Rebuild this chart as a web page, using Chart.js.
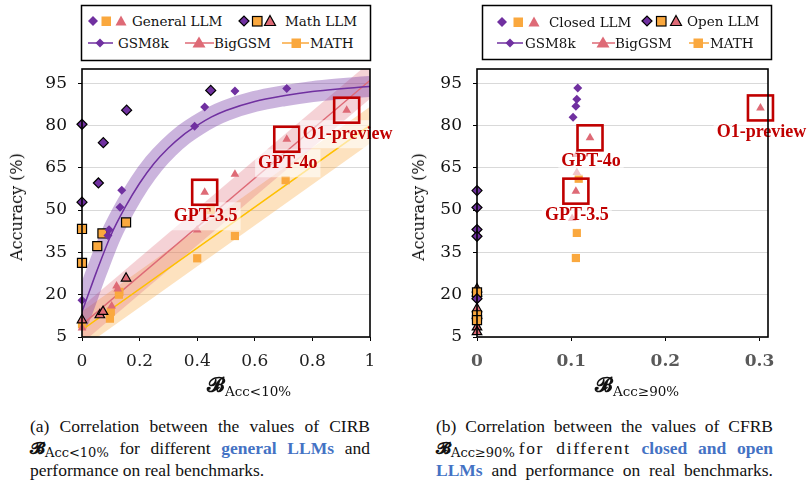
<!DOCTYPE html>
<html><head><meta charset="utf-8">
<script src="https://cdn.jsdelivr.net/npm/chart.js@4"></script>
<style>
body{margin:0;width:809px;height:484px;background:#fff;position:relative;overflow:hidden;font-family:"Liberation Serif",serif;}
canvas{position:absolute;top:0;}
#c1{left:0;}
#c2{left:400px;}
#lg{position:absolute;left:0;top:0;}
.lt{position:absolute;font-family:"DejaVu Serif",serif;font-size:13.5px;line-height:14px;color:#111;white-space:nowrap;transform:translateY(-50%);}
.yt{position:absolute;font-family:"DejaVu Serif",serif;font-size:16px;line-height:18px;white-space:nowrap;transform:translate(-50%,-50%) rotate(-90deg);color:#111;}
.xt{position:absolute;white-space:nowrap;line-height:22px;color:#111;}
.bs{font-family:"DejaVu Serif","DejaVu Sans",serif;font-weight:bold;font-size:20px;}
.sb{font-family:"DejaVu Serif",serif;font-size:13.5px;position:relative;top:4px;}
.cap{position:absolute;font-family:"Liberation Serif",serif;font-size:17.5px;line-height:21.5px;color:#111;}
.j{text-align:justify;text-align-last:justify;white-space:nowrap;}
.cap .bs{font-size:17px;}
.cap .sb{font-size:13px;top:3px;}
.bl{color:#4472C4;font-weight:bold;}
</style>
</head><body>
<canvas id="c1" width="400" height="400"></canvas>
<canvas id="c2" width="409" height="400"></canvas>

<svg id="lg" width="809" height="70" xmlns="http://www.w3.org/2000/svg">
  <rect x="81.5" y="5.5" width="289" height="55" fill="#fff" stroke="#000" stroke-width="1.5"/>
  <polygon points="88,21 93,16 98,21 93,26" fill="#7030A0"/>
  <rect x="101.5" y="16.5" width="9.5" height="9.5" fill="#FAA83E"/>
  <polygon points="121,15.5 126.5,25.5 115.5,25.5" fill="#DE6A76"/>
  <polygon points="239,21 244,16 249,21 244,26" fill="#7030A0" stroke="#000" stroke-width="1.2"/>
  <rect x="252.5" y="16.5" width="9.5" height="9.5" fill="#FAA83E" stroke="#000" stroke-width="1.2"/>
  <polygon points="270,15.5 275.5,25.5 264.5,25.5" fill="#DE6A76" stroke="#000" stroke-width="1.2"/>
  <line x1="88" y1="43" x2="113" y2="43" stroke="#7030A0" stroke-width="1.5"/>
  <polygon points="95.5,43 100,38.5 104.5,43 100,47.5" fill="#7030A0"/>
  <line x1="185" y1="43" x2="214" y2="43" stroke="#DE6A76" stroke-width="1.5"/>
  <polygon points="199,36.5 205.5,47.5 192.5,47.5" fill="#DE6A76"/>
  <line x1="282" y1="43" x2="309" y2="43" stroke="#FAA83E" stroke-width="1.5"/>
  <rect x="291.5" y="38.5" width="9.5" height="9.5" fill="#FAA83E"/>

  <rect x="482.5" y="5.5" width="289" height="54" fill="#fff" stroke="#000" stroke-width="1.5"/>
  <polygon points="497,22 502,17 507,22 502,27" fill="#7030A0"/>
  <rect x="513.5" y="17.5" width="9.5" height="9.5" fill="#FAA83E"/>
  <polygon points="534,16.5 539.5,26.5 528.5,26.5" fill="#DE6A76"/>
  <polygon points="642,21 647,16 652,21 647,26" fill="#7030A0" stroke="#000" stroke-width="1.2"/>
  <rect x="656.5" y="16.5" width="9.5" height="9.5" fill="#FAA83E" stroke="#000" stroke-width="1.2"/>
  <polygon points="676,15.5 681.5,25.5 670.5,25.5" fill="#DE6A76" stroke="#000" stroke-width="1.2"/>
  <line x1="497" y1="43" x2="523" y2="43" stroke="#7030A0" stroke-width="1.5"/>
  <polygon points="505.5,43 510,38.5 514.5,43 510,47.5" fill="#7030A0"/>
  <line x1="592" y1="43" x2="615" y2="43" stroke="#DE6A76" stroke-width="1.5"/>
  <polygon points="603,36.5 609.5,47.5 596.5,47.5" fill="#DE6A76"/>
  <line x1="689" y1="43" x2="709" y2="43" stroke="#FAA83E" stroke-width="1.5"/>
  <rect x="693.5" y="38.5" width="9.5" height="9.5" fill="#FAA83E"/>
</svg>
<span class="lt" style="left:132px;top:21px">General LLM</span>
<span class="lt" style="left:285px;top:21px">Math LLM</span>
<span class="lt" style="left:118px;top:43px">GSM8k</span>
<span class="lt" style="left:214px;top:43px">BigGSM</span>
<span class="lt" style="left:310px;top:43px">MATH</span>
<span class="lt" style="left:549px;top:22px">Closed LLM</span>
<span class="lt" style="left:687px;top:21px">Open LLM</span>
<span class="lt" style="left:525px;top:43px">GSM8k</span>
<span class="lt" style="left:615px;top:43px">BigGSM</span>
<span class="lt" style="left:710px;top:43px">MATH</span>

<div class="yt" style="left:17px;top:207px">Accuracy (%)</div>
<div class="yt" style="left:419px;top:207px">Accuracy (%)</div>
<div class="xt" style="left:207px;top:374px"><span class="bs">𝓑</span><span class="sb">Acc&lt;10%</span></div>
<div class="xt" style="left:595px;top:374px"><span class="bs">𝓑</span><span class="sb">Acc≥90%</span></div>

<div class="cap" style="left:30px;top:416px;width:340px">
  <div class="j">(a) Correlation between the values of CIRB</div>
  <div class="j"><span class="bs">𝓑</span><span class="sb">Acc&lt;10%</span> for different <span class="bl">general LLMs</span> and</div>
  <div>performance on real benchmarks.</div>
</div>
<div class="cap" style="left:436px;top:416px;width:337px">
  <div class="j">(b) Correlation between the values of CFRB</div>
  <div class="j"><span class="bs">𝓑</span><span class="sb">Acc≥90%</span><span style="letter-spacing:1.6px;margin-left:4px">for different</span> <span class="bl">closed and open</span></div>
  <div class="j"><span class="bl">LLMs</span> and performance on real benchmarks.</div>
</div>

<script>
// ---------- data: left chart (CIRB) ----------
const xTicksL = [0, 0.2, 0.4, 0.6, 0.8, 1];
const xTickLabelsL = ['0', '0.2', '0.4', '0.6', '0.8', '1'];
const yTicks = [5, 20, 35, 50, 65, 80, 95];

const gsmGenX = [0, 0.09, 0.094, 0.132, 0.138, 0.391, 0.426, 0.531, 0.711];
const gsmGenY = [18, 41, 43, 51, 57, 79.7, 86.5, 92.2, 93.1];
const gsmMathX = [0, 0, 0.057, 0.074, 0.155, 0.447];
const gsmMathY = [80.4, 52.8, 59.6, 73.9, 85.4, 92.4];
const mathGenX = [0, 0.097, 0.1, 0.128, 0.13, 0.4, 0.447, 0.531, 0.707];
const mathGenY = [9.5, 11.5, 14, 20, 21, 32.9, 50, 40.8, 60.6];
const mathMathX = [0, 0, 0.053, 0.071, 0.153];
const mathMathY = [43.3, 31.3, 37.2, 41.7, 45.6];
const bigGenX = [0, 0.103, 0.12, 0.124, 0.4, 0.426, 0.531, 0.711, 0.919];
const bigGenY = [8.2, 16, 23.1, 22, 42.9, 56.3, 62.7, 75.1, 85.4];
const bigMathX = [0, 0.062, 0.073, 0.153];
const bigMathY = [11, 12.8, 14, 25.8];

const gsmFitX = [-0.02, 0, 0.05, 0.1, 0.15, 0.2, 0.25, 0.3, 0.35, 0.4, 0.45, 0.5, 0.6, 0.7, 0.8, 0.9, 1.0, 1.03];
const gsmFitY = [9, 14, 28, 41, 51, 59.5, 66.5, 72, 76.5, 80, 83, 85.3, 88.5, 90.5, 92, 93, 93.8, 94];
const bigFitX = [-0.05, 1.05];
const bigFitY = [5, 100.3];
const mathFitX = [-0.05, 1.05];
const mathFitY = [3.9, 83.7];

const annNamesL = ['GPT-3.5', 'GPT-4o', 'O1-preview'];
const annXL = [0.426, 0.711, 0.919];
const annYL = [56.3, 75.1, 85.4];

// ---------- data: right chart (CFRB) ----------
const xTicksR = [0, 0.1, 0.2, 0.3];
const xTickLabelsR = ['0', '0.1', '0.2', '0.3'];
const gsmClosedX = [0.107, 0.106, 0.105, 0.102];
const gsmClosedY = [93.3, 89.3, 86.8, 82.9];
const gsmOpenX = [0, 0, 0, 0, 0];
const gsmOpenY = [56.9, 50.9, 43.1, 40.7, 18.6];
const bigClosedX = [0.101, 0.105, 0.106, 0.106, 0.12, 0.301];
const bigClosedY = [47, 56.7, 63.3, 69.7, 75.6, 86.2];
const bigOpenX = [0, 0, 0, 0, 0, 0];
const bigOpenY = [22, 20.5, 15, 12.7, 8.5, 6.8];
const mathClosedX = [0.105, 0.106, 0.108];
const mathClosedY = [33, 41.9, 61.1];
const mathOpenX = [0, 0, 0];
const mathOpenY = [20.8, 12.7, 11];

const annNamesR = ['GPT-3.5', 'GPT-4o', 'O1-preview'];
const annXR = [0.105, 0.12, 0.301];
const annYR = [56.7, 75.6, 86.2];

// ---------- styles ----------
const PURPLE = '#7030A0', ORANGE = '#FAA83E', RED = '#DE6A76', YEL = '#FFC000', BOX = '#C00000';

function pts(xs, ys) { return xs.map((x, i) => ({ x: x, y: ys[i] })); }
function sc(xs, ys, style, color, bordered, r) {
  return { type: 'scatter', data: pts(xs, ys), pointStyle: style, backgroundColor: color,
    borderColor: bordered ? '#000' : color, borderWidth: bordered ? 1.2 : 0,
    pointRadius: r, pointHoverRadius: r, clip: false, order: 0, showLine: false };
}
function ln(xs, ys, color, w, order) {
  return { type: 'line', data: pts(xs, ys), borderColor: color, borderWidth: w, pointRadius: 0,
    fill: false, cubicInterpolationMode: 'monotone', clip: 0, order: order,
    borderJoinStyle: 'round', borderCapStyle: 'butt' };
}

const decor = {
  id: 'decor',
  afterDatasetsDraw(chart, args, opts) {
    const ctx = chart.ctx, xs = chart.scales.x, ys = chart.scales.y;
    ctx.save();
    opts.names.forEach((name, i) => {
      const px = xs.getPixelForValue(opts.xs[i]), py = ys.getPixelForValue(opts.ys[i]);
      ctx.font = 'bold 18px "Liberation Serif"';
      const w = ctx.measureText(name).width;
      const ty = py + 24, tx = px + 1;
      ctx.fillStyle = 'rgba(255,255,255,0.6)';
      ctx.fillRect(tx - w / 2 - 3, ty - 14, w + 6, 28);
      ctx.fillStyle = BOX;
      ctx.textAlign = 'center'; ctx.textBaseline = 'middle';
      ctx.fillText(name, tx, ty);
      ctx.strokeStyle = BOX; ctx.lineWidth = 2.6;
      ctx.strokeRect(px - 12.5, py - 12.5, 25, 25);
    });
    ctx.restore();
  },
  afterDraw(chart) {
    const a = chart.chartArea, ctx = chart.ctx;
    ctx.save(); ctx.strokeStyle = '#000'; ctx.lineWidth = 1.6;
    ctx.strokeRect(a.left, a.top, a.right - a.left, a.bottom - a.top);
    ctx.restore();
  }
};

function makeOpts(xmax, xticks, xlabels, yw, padR, xcolor, xweight, ann) {
  return {
    responsive: false, animation: false, devicePixelRatio: 1,
    layout: { padding: { left: 0, top: 69, right: padR, bottom: 0 } },
    plugins: { legend: { display: false }, tooltip: { enabled: false }, decor: ann },
    scales: {
      x: { type: 'linear', min: 0, max: xmax,
        afterBuildTicks: s => { s.ticks = xticks.map(v => ({ value: v })); },
        afterFit: s => { s.height = 63; },
        grid: { drawOnChartArea: false, drawTicks: true, tickLength: 4, tickColor: '#000' },
        border: { display: false },
        ticks: { color: xcolor, font: { family: 'DejaVu Serif', size: 17, weight: xweight }, padding: 10,
          maxRotation: 0, autoSkip: false, callback: (v, i) => xlabels[i] } },
      y: { type: 'linear', min: 5, max: 100,
        afterBuildTicks: s => { s.ticks = yTicks.map(v => ({ value: v })); },
        afterFit: s => { s.width = yw; },
        grid: { color: '#d9d9d9', lineWidth: 1, drawTicks: true, tickLength: 4, tickColor: '#000' },
        border: { display: false },
        ticks: { color: '#111', font: { family: 'DejaVu Serif', size: 17 }, padding: 11, autoSkip: false } }
    }
  };
}

new Chart(document.getElementById('c1'), {
  type: 'scatter',
  data: { datasets: [
    sc(gsmGenX, gsmGenY, 'rectRot', PURPLE, false, 4.5),
    sc(gsmMathX, gsmMathY, 'rectRot', PURPLE, true, 5),
    sc(bigGenX, bigGenY, 'triangle', RED, false, 5),
    sc(bigMathX, bigMathY, 'triangle', RED, true, 5.5),
    sc(mathGenX, mathGenY, 'rect', ORANGE, false, 5.8),
    sc(mathMathX, mathMathY, 'rect', ORANGE, true, 6.4),
    ln(gsmFitX, gsmFitY, PURPLE, 1.5, 1),
    ln(bigFitX, bigFitY, RED, 1.5, 1),
    ln(mathFitX, mathFitY, YEL, 1.5, 1),
    ln(gsmFitX, gsmFitY, 'rgba(112,48,160,0.36)', 21, 2),
    ln(bigFitX, bigFitY, 'rgba(222,106,118,0.3)', 28, 2),
    ln(mathFitX, mathFitY, 'rgba(250,168,62,0.33)', 30, 2)
  ] },
  options: makeOpts(1, xTicksL, xTickLabelsL, 82, 30, '#222', 'normal', { names: annNamesL, xs: annXL, ys: annYL }),
  plugins: [decor]
});

new Chart(document.getElementById('c2'), {
  type: 'scatter',
  data: { datasets: [
    sc(gsmClosedX, gsmClosedY, 'rectRot', PURPLE, false, 4.5),
    sc(bigClosedX, bigClosedY, 'triangle', RED, false, 5),
    sc(mathClosedX, mathClosedY, 'rect', ORANGE, false, 5.8),
    sc(gsmOpenX, gsmOpenY, 'rectRot', PURPLE, true, 5),
    sc(mathOpenX, mathOpenY, 'rect', ORANGE, true, 6.4),
    sc(bigOpenX, bigOpenY, 'triangle', RED, true, 5.5)
  ] },
  options: makeOpts(0.309, xTicksR, xTickLabelsR, 77, 41, '#595959', 'bold', { names: annNamesR, xs: annXR, ys: annYR }),
  plugins: [decor]
});
</script>
</body></html>
